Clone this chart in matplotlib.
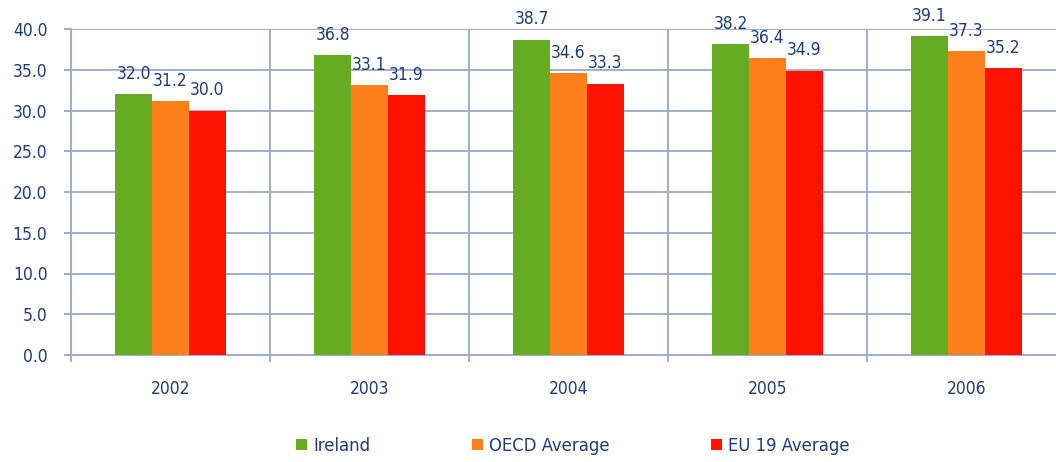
import numpy as np
import matplotlib.pyplot as plt
from matplotlib.patches import Patch

# Datos
anios = ['2002', '2003', '2004', '2005', '2006']
series = ['Ireland', 'OECD Average', 'EU 19 Average']
ireland = [32.0, 36.8, 38.7, 38.2, 39.1]
oecd = [31.2, 33.1, 34.6, 36.4, 37.3]
eu19 = [30.0, 31.9, 33.3, 34.9, 35.2]
colores = ['#66AC22', '#FF7F1A', '#FF1200']

texto = '#1F3C78'
rejilla = '#9EAFCC'

plt.rcParams['font.family'] = 'DejaVu Sans'
plt.rcParams['font.stretch'] = 'condensed'

fig = plt.figure(figsize=(10.56, 4.62), dpi=100)
# El eje se sale un poco por la derecha de la figura
ax = fig.add_axes([71/1056, 107/462, 995/1056, 326/462])

x = np.arange(len(anios)) + 0.5
ancho = 0.185
for i, (valores, color) in enumerate(zip([ireland, oecd, eu19], colores)):
    pos = x + (i - 1) * ancho
    barras = ax.bar(pos, valores, width=ancho, color=color, zorder=3)
    for b, v in zip(barras, valores):
        ax.annotate(f'{v:.1f}', (b.get_x() + b.get_width() / 2, v),
                    xytext=(0, 8), textcoords='offset points',
                    ha='center', va='bottom', fontsize=12.5, color=texto)

ax.set_xlim(0, 5)
ax.set_ylim(0, 40)
ax.set_yticks(np.arange(0, 41, 5))
ax.set_yticklabels([f'{v:.1f}' for v in np.arange(0, 41, 5)])

# Etiquetas de los años en el centro, líneas verticales entre grupos
ax.set_xticks(x)
ax.set_xticklabels(anios)
ax.set_xticks(np.arange(0, 6), minor=True)
ax.tick_params(axis='x', which='major', length=0, pad=18, labelsize=12.5, labelcolor=texto)
ax.tick_params(axis='x', which='minor', length=5, width=1.4, color=rejilla)
ax.tick_params(axis='y', length=5, width=1.4, color=rejilla, pad=12, labelsize=12.5, labelcolor=texto)

ax.grid(axis='y', color=rejilla, linewidth=1.4, zorder=0)
ax.grid(axis='x', which='minor', color=rejilla, linewidth=1.4, zorder=0)

for lado in ['top', 'right']:
    ax.spines[lado].set_visible(False)
for lado in ['left', 'bottom']:
    ax.spines[lado].set_color(rejilla)
    ax.spines[lado].set_linewidth(1.4)

handles = [Patch(facecolor=c) for c in colores]
fig.legend(handles, series, loc='center', bbox_to_anchor=(0.5426, 0.035), ncol=3,
           frameon=False, fontsize=13.2, labelcolor=texto, handlelength=0.6,
           handleheight=0.6, handletextpad=0.35, columnspacing=5.5)

plt.savefig('out.png', dpi=100)
